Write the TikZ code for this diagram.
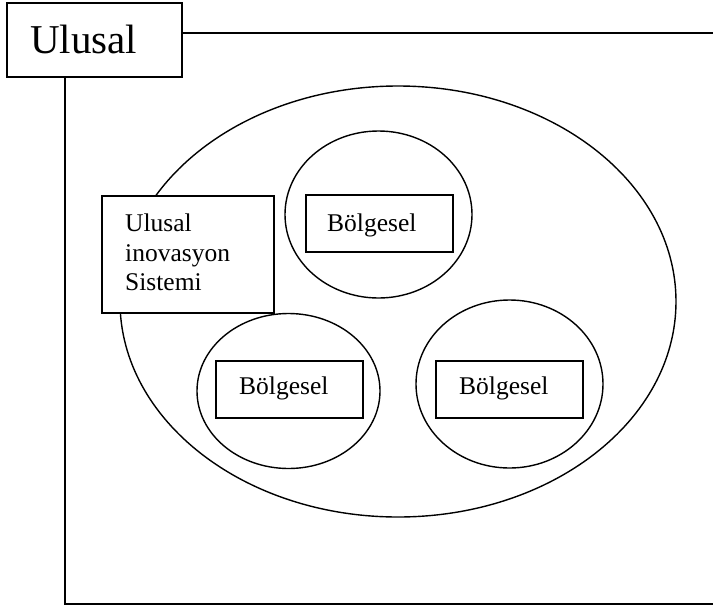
\documentclass[tikz,border=0pt]{standalone}
\usepackage{fontspec}
\setmainfont{Liberation Serif}
\usetikzlibrary{shapes.geometric}
\begin{document}
\begin{tikzpicture}[x=1pt,y=-1pt,
  frame/.style={line width=1.8pt},
  boxshape/.style={draw,rectangle,line width=1.5pt,fill=white,inner sep=0pt},
  ring/.style={draw,ellipse,line width=1.4pt,inner sep=0pt},
  bigtext/.style={font=\fontsize{41}{49}\selectfont,inner sep=0pt,anchor=base west},
  smalltext/.style={font=\fontsize{25.5}{29.5}\selectfont,inner sep=0pt,anchor=base west}]
\useasboundingbox (0,0) rectangle (713,606);

% outer frame with the title box
\node[boxshape,line width=1.8pt,minimum width=175pt,minimum height=74pt] (ulusal) at (94.5,40) {};
\node[bigtext] (ulusaltxt) at (30,53) {Ulusal};
\coordinate (topstart) at (182,33);
\coordinate (topend) at (713,33);
\coordinate (leftstart) at (65,77);
\coordinate (corner) at (65,604);
\coordinate (bottomend) at (713,604);
\draw[frame] (topstart) -- (topend);
\draw[frame] (leftstart) -- (corner) -- (bottomend);

% large ellipse
\node[ring,minimum width=556pt,minimum height=431pt] (outer) at (398,301.5) {};

% national system box
\node[boxshape,minimum width=172pt,minimum height=117pt] (nis) at (188,254.5) {};
\node[smalltext] (nis1) at (125,231) {Ulusal};
\node[smalltext] (nis2) at (125,261) {inovasyon};
\node[smalltext] (nis3) at (125,290) {Sistemi};

% regional circles
\node[ring,minimum width=187pt,minimum height=167pt] (ctop) at (378.5,214.5) {};
\node[ring,minimum width=183pt,minimum height=155pt] (cleft) at (288.5,391) {};
\node[ring,minimum width=187pt,minimum height=168pt] (cright) at (509.5,384) {};

% regional boxes
\node[boxshape,minimum width=147pt,minimum height=57pt] (btop) at (379.5,223.5) {};
\node[smalltext] (ttop) at (327,231) {Bölgesel};
\node[boxshape,minimum width=147pt,minimum height=57pt] (bleft) at (289.5,389.5) {};
\node[smalltext] (tleft) at (239,394) {Bölgesel};
\node[boxshape,minimum width=147pt,minimum height=57pt] (bright) at (509.5,389.5) {};
\node[smalltext] (tright) at (459,394) {Bölgesel};
\end{tikzpicture}
\end{document}
